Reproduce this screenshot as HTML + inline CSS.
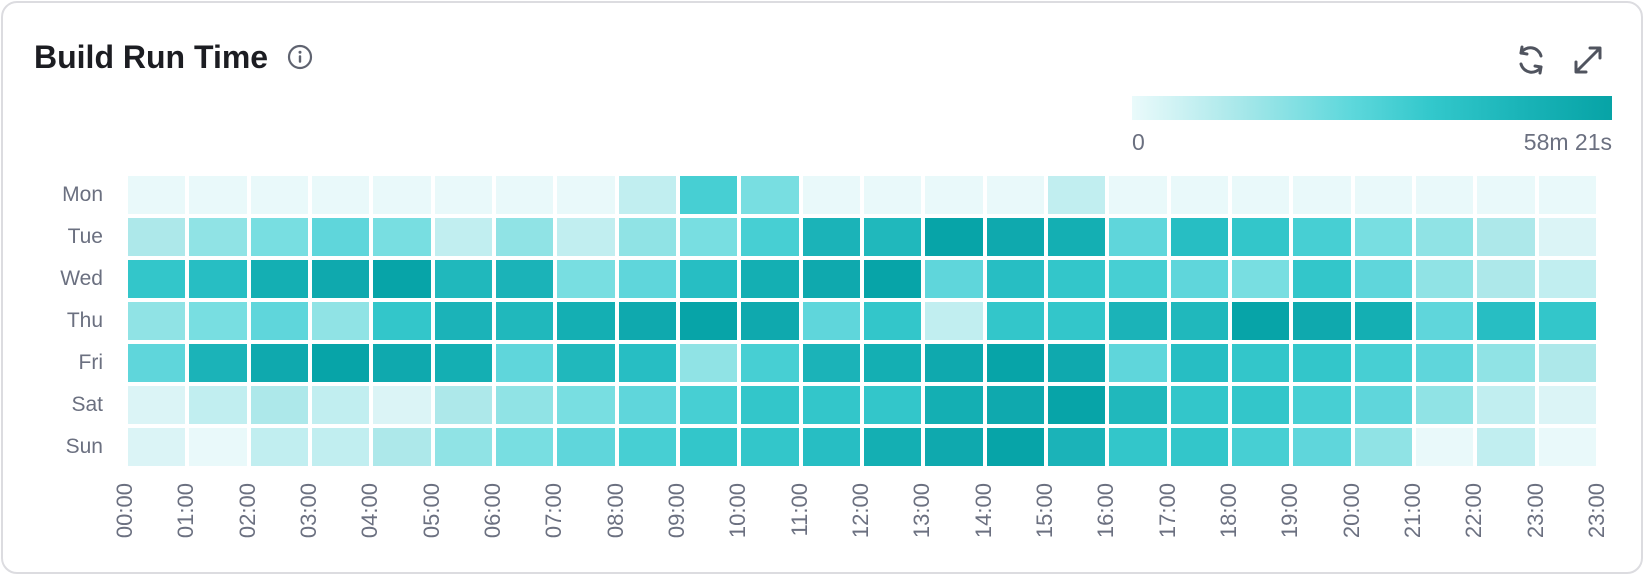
<!DOCTYPE html>
<html><head><meta charset="utf-8"><style>
*{margin:0;padding:0;box-sizing:border-box}
body{width:1644px;height:576px;background:#fff;position:relative;overflow:hidden;font-family:"Liberation Sans",sans-serif}
.card{position:absolute;left:1px;top:1px;width:1642px;height:573px;border:2px solid #dcdce0;border-radius:16px}
.title{position:absolute;left:34px;top:37px;font-size:32px;font-weight:bold;color:#1c1d22;line-height:40px}
.lbl{position:absolute;color:#6b7080;font-size:23px;line-height:26px}
.grid{position:absolute;left:128px;top:176px;display:grid;grid-template-columns:repeat(24,57.33px);grid-auto-rows:38px;column-gap:4px;row-gap:4px}
.grid i{display:block}
.c0{background:#e9f9fa}.c1{background:#dbf4f6}.c2{background:#c1eef0}.c3{background:#ade8ea}.c4{background:#90e3e5}
.c5{background:#78dee1}.c6{background:#5fd6db}.c7{background:#47cfd3}.c8{background:#33c6ca}.c9{background:#27bec3}
.c10{background:#20b8bc}.c11{background:#1bb3b8}.c12{background:#14afb3}.c13{background:#0fa9ae}.c14{background:#07a4a8}
.day{position:absolute;width:90px;text-align:right;left:13px;height:24px;line-height:24px;font-size:21px;color:#6b7080}
.xl{position:absolute;width:70px;height:24px;line-height:24px;text-align:right;font-size:22px;color:#6b7080;transform-origin:100% 50%;transform:rotate(-90deg);top:471px}
</style></head><body>
<div class="card"></div>
<div class="title">Build Run Time</div>
<svg style="position:absolute;left:287px;top:44px" width="26" height="26" viewBox="0 0 26 26"><circle cx="13" cy="13" r="11" fill="none" stroke="#5f6370" stroke-width="2.2"/><circle cx="13" cy="8.3" r="1.5" fill="#5f6370"/><rect x="11.8" y="11.3" width="2.4" height="7.5" rx="1" fill="#5f6370"/></svg>
<svg style="position:absolute;left:1513px;top:42px" width="36" height="36" viewBox="0 0 36 36" fill="none" stroke="#50545f" stroke-width="3" stroke-linecap="round" stroke-linejoin="round"><path d="M28 14 A11 11 0 0 0 8 11"/><path d="M8 22 A11 11 0 0 0 28 25"/><path d="M9 5 L8 11 L14 12"/><path d="M27 31 L28 25 L22 24"/></svg>
<svg style="position:absolute;left:1570px;top:42px" width="36" height="36" viewBox="0 0 36 36" fill="none" stroke="#50545f" stroke-width="3" stroke-linecap="round" stroke-linejoin="round"><path d="M7 29 L29 7"/><path d="M20 6 L30 6 L30 16"/><path d="M6 20 L6 30 L16 30"/></svg>
<div style="position:absolute;left:1132px;top:96px;width:480px;height:24px;background:linear-gradient(90deg,#eafafb 0%,#a9e8ea 22%,#5fd8dc 45%,#33c8cc 62%,#1bb5b9 80%,#07a3a6 100%)"></div>
<div class="lbl" style="left:1132px;top:129px">0</div>
<div class="lbl" style="right:32px;top:129px">58m 21s</div>

<div class="day" style="top:183px">Mon</div>
<div class="day" style="top:225px">Tue</div>
<div class="day" style="top:267px">Wed</div>
<div class="day" style="top:309px">Thu</div>
<div class="day" style="top:351px">Fri</div>
<div class="day" style="top:393px">Sat</div>
<div class="day" style="top:435px">Sun</div>

<div class="grid">
<i class=c0></i><i class=c0></i><i class=c0></i><i class=c0></i><i class=c0></i><i class=c0></i><i class=c0></i><i class=c0></i><i class=c2></i><i class=c7></i><i class=c5></i><i class=c0></i><i class=c0></i><i class=c0></i><i class=c0></i><i class=c2></i><i class=c0></i><i class=c0></i><i class=c0></i><i class=c0></i><i class=c0></i><i class=c0></i><i class=c0></i><i class=c0></i>
<i class=c3></i><i class=c4></i><i class=c5></i><i class=c6></i><i class=c5></i><i class=c2></i><i class=c4></i><i class=c2></i><i class=c4></i><i class=c5></i><i class=c7></i><i class=c11></i><i class=c10></i><i class=c14></i><i class=c13></i><i class=c12></i><i class=c6></i><i class=c9></i><i class=c8></i><i class=c7></i><i class=c5></i><i class=c4></i><i class=c3></i><i class=c1></i>
<i class=c8></i><i class=c9></i><i class=c12></i><i class=c13></i><i class=c14></i><i class=c10></i><i class=c11></i><i class=c5></i><i class=c6></i><i class=c9></i><i class=c12></i><i class=c13></i><i class=c14></i><i class=c6></i><i class=c9></i><i class=c8></i><i class=c7></i><i class=c6></i><i class=c5></i><i class=c8></i><i class=c6></i><i class=c4></i><i class=c3></i><i class=c2></i>
<i class=c4></i><i class=c5></i><i class=c6></i><i class=c4></i><i class=c8></i><i class=c11></i><i class=c10></i><i class=c12></i><i class=c13></i><i class=c14></i><i class=c13></i><i class=c6></i><i class=c8></i><i class=c2></i><i class=c8></i><i class=c8></i><i class=c11></i><i class=c10></i><i class=c14></i><i class=c13></i><i class=c12></i><i class=c6></i><i class=c9></i><i class=c8></i>
<i class=c6></i><i class=c11></i><i class=c13></i><i class=c14></i><i class=c13></i><i class=c12></i><i class=c6></i><i class=c10></i><i class=c9></i><i class=c4></i><i class=c7></i><i class=c11></i><i class=c12></i><i class=c13></i><i class=c14></i><i class=c13></i><i class=c6></i><i class=c9></i><i class=c8></i><i class=c8></i><i class=c7></i><i class=c6></i><i class=c4></i><i class=c3></i>
<i class=c1></i><i class=c2></i><i class=c3></i><i class=c2></i><i class=c1></i><i class=c3></i><i class=c4></i><i class=c5></i><i class=c6></i><i class=c7></i><i class=c8></i><i class=c8></i><i class=c8></i><i class=c12></i><i class=c13></i><i class=c14></i><i class=c10></i><i class=c8></i><i class=c8></i><i class=c7></i><i class=c6></i><i class=c4></i><i class=c2></i><i class=c1></i>
<i class=c1></i><i class=c0></i><i class=c2></i><i class=c2></i><i class=c3></i><i class=c4></i><i class=c5></i><i class=c6></i><i class=c7></i><i class=c8></i><i class=c8></i><i class=c9></i><i class=c12></i><i class=c13></i><i class=c14></i><i class=c11></i><i class=c8></i><i class=c8></i><i class=c7></i><i class=c6></i><i class=c4></i><i class=c0></i><i class=c2></i><i class=c0></i>
</div>

<div class="xl" style="left:55px">00:00</div>
<div class="xl" style="left:116.3px">01:00</div>
<div class="xl" style="left:177.7px">02:00</div>
<div class="xl" style="left:239px">03:00</div>
<div class="xl" style="left:300.3px">04:00</div>
<div class="xl" style="left:361.7px">05:00</div>
<div class="xl" style="left:423px">06:00</div>
<div class="xl" style="left:484.3px">07:00</div>
<div class="xl" style="left:545.7px">08:00</div>
<div class="xl" style="left:607px">09:00</div>
<div class="xl" style="left:668.3px">10:00</div>
<div class="xl" style="left:729.7px">11:00</div>
<div class="xl" style="left:791px">12:00</div>
<div class="xl" style="left:852.3px">13:00</div>
<div class="xl" style="left:913.7px">14:00</div>
<div class="xl" style="left:975px">15:00</div>
<div class="xl" style="left:1036.3px">16:00</div>
<div class="xl" style="left:1097.7px">17:00</div>
<div class="xl" style="left:1159px">18:00</div>
<div class="xl" style="left:1220.3px">19:00</div>
<div class="xl" style="left:1281.7px">20:00</div>
<div class="xl" style="left:1343px">21:00</div>
<div class="xl" style="left:1404.3px">22:00</div>
<div class="xl" style="left:1465.7px">23:00</div>
<div class="xl" style="left:1527px">23:00</div>
</body></html>
